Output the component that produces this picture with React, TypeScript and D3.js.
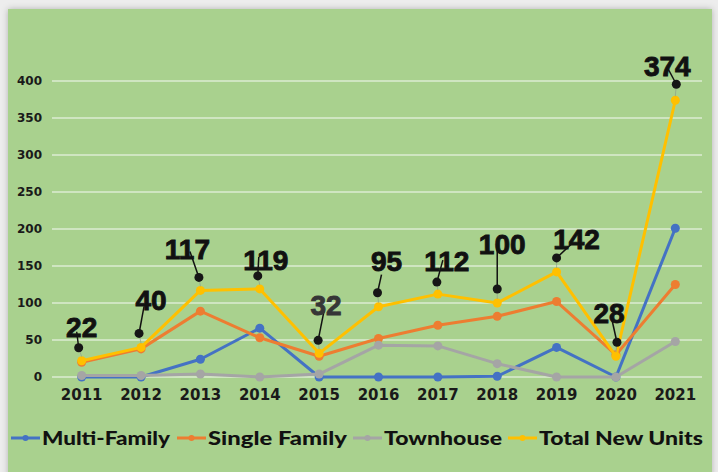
import React from 'react';
import * as d3 from 'd3';

const years = ['2011', '2012', '2013', '2014', '2015', '2016', '2017', '2018', '2019', '2020', '2021'];
const multiFamily = [0, 0, 24, 66, 0, 0, 0, 1, 40, 0, 201];
const singleFamily = [20, 38, 89, 53, 28, 52, 70, 82, 102, 30, 125];
const townhouse = [2, 2, 4, 0, 4, 43, 42, 18, 0, 0, 48];
const totalNewUnits = [22, 40, 117, 119, 32, 95, 112, 100, 142, 28, 374];
const yTicks = [0, 50, 100, 150, 200, 250, 300, 350, 400];
const seriesNames = ['Multi-Family', 'Single Family', 'Townhouse', 'Total New Units'];

// callout placement (pixel offsets relative to the data point), style only
const dotOffsets = [[-3, -13], [-2, -14], [-1.5, -13], [-2, -13], [-1, -13], [-1, -14], [-1, -12], [0, -14], [0, -14], [1, -14], [1, -16]];
const leaderEnds = [[-2, -16], [5, -27], [-9, -26], [1, -19], [6, -30], [4, -18], [6, -22], [0, -44], [16, -15], [-6, -27], [-8, -15]];
const textOffsets = [[0, -24], [10, -37], [-13, -31], [6, -19], [7, -38], [8, -36], [9, -23], [5, -49], [20, -23], [-7, -33], [-8, -24]];

const W = 718;
const H = 472;
const colors = ['#4472C4', '#ED7D31', '#A5A5A5', '#FFC000'];

export default function App() {
  const x = d3.scalePoint<string>().domain(years).range([52, 705]).padding(0.5);
  const y = d3.scaleLinear().domain([0, 400]).range([377, 81]);
  const series = [multiFamily, singleFamily, townhouse, totalNewUnits];
  const line = d3
    .line<number>()
    .x((_, i) => x(years[i]) as number)
    .y((d) => y(d));

  const legendX = [11, 177, 353, 508];
  const legendTextLen = [128, 139, 118, 164];

  return (
    <svg
      width={W}
      height={H}
      style={{ position: 'fixed', left: 0, top: 0, display: 'block' }}
      fontFamily="'DejaVu Sans', sans-serif"
    >
      <defs>
        <filter id="sh" x="-5%" y="-5%" width="110%" height="110%">
          <feDropShadow dx="0" dy="0" stdDeviation="3" floodColor="#000" floodOpacity="0.25" />
        </filter>
      </defs>
      <rect x={0} y={0} width={W} height={H} fill="#ededed" />
      <rect x={8} y={9} width={704} height={470} fill="#A9D18E" filter="url(#sh)" />

      {/* gridlines */}
      {yTicks.map((t) => (
        <line key={t} x1={52} x2={702} y1={y(t)} y2={y(t)} stroke="#dcebd2" strokeWidth={1.5} />
      ))}
      {/* y labels */}
      {yTicks.map((t) => (
        <text key={t} x={42} y={y(t)} dy="0.35em" textAnchor="end" fontSize={12} fontWeight="bold" fill="#1a1a1a">
          {t}
        </text>
      ))}
      {/* x labels */}
      {years.map((yr) => (
        <text key={yr} x={x(yr)} y={400} textAnchor="middle" fontSize={15} fontWeight="bold" fill="#1a1a1a">
          {yr}
        </text>
      ))}

      {/* series */}
      {series.map((s, si) => (
        <g key={si}>
          <path d={line(s) as string} fill="none" stroke={colors[si]} strokeWidth={3} strokeLinejoin="round" />
          {s.map((v, i) => (
            <circle key={i} cx={x(years[i])} cy={y(v)} r={4.5} fill={colors[si]} />
          ))}
        </g>
      ))}

      {/* callouts for total */}
      {totalNewUnits.map((v, i) => {
        const px = x(years[i]) as number;
        const py = y(v);
        const dx = px + dotOffsets[i][0];
        const dy = py + dotOffsets[i][1];
        const ex = dx + leaderEnds[i][0];
        const ey = dy + leaderEnds[i][1];
        const c = i === 4 ? '#363636' : '#111';
        return (
          <g key={i}>
            <line x1={px} y1={py - 4} x2={dx} y2={dy} stroke="#8f9f8a" strokeWidth={1} opacity={0.7} />
            <line x1={dx} y1={dy} x2={ex} y2={ey} stroke="#111" strokeWidth={1.5} />
            <circle cx={dx} cy={dy} r={4.5} fill="#161616" />
            <text
              x={px + textOffsets[i][0]}
              y={py + textOffsets[i][1]}
              textAnchor="middle"
              fontFamily="'Liberation Sans', Arial, sans-serif"
              fontSize={28}
              fontWeight="bold"
              fill={c}
              stroke={c}
              strokeWidth={0.9}
            >
              {v}
            </text>
          </g>
        );
      })}

      {/* legend */}
      {seriesNames.map((n, i) => (
        <g key={n}>
          <line x1={legendX[i]} x2={legendX[i] + 29} y1={438} y2={438} stroke={colors[i]} strokeWidth={3} />
          <circle cx={legendX[i] + 14.5} cy={438} r={3} fill={colors[i]} />
          <text
            x={legendX[i] + 31}
            y={444.5}
            fontFamily="Lato, 'Open Sans', sans-serif"
            fontWeight={900}
            fontSize={19.5}
            fill="#111"
            textLength={legendTextLen[i]}
            lengthAdjust="spacingAndGlyphs"
          >
            {n}
          </text>
        </g>
      ))}
    </svg>
  );
}
